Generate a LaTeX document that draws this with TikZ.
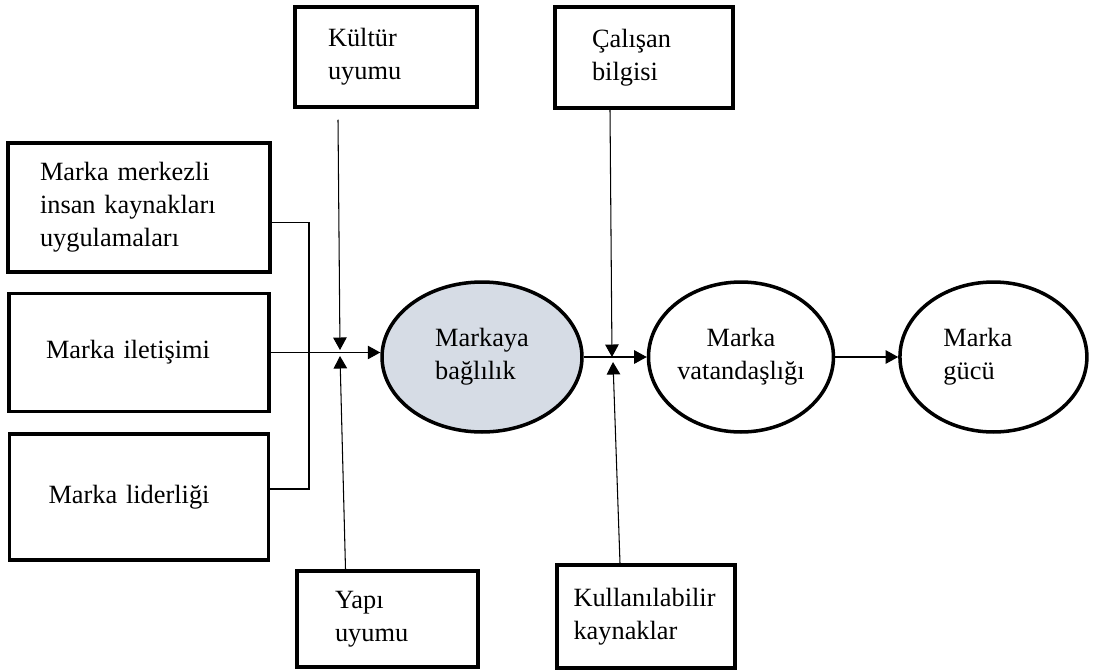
\documentclass[tikz,border=0pt]{standalone}
\usepackage{fontspec}
\setmainfont{Liberation Serif}
\usepackage{tikz}
\usetikzlibrary{positioning,shapes.geometric,arrows.meta,calc}
\definecolor{bagfill}{HTML}{D6DCE5}

\begin{document}
\begin{tikzpicture}[%
  x=0.02cm,
  y=-0.02cm,
  >={Triangle[length=0.25cm,width=0.27cm]},
  node distance=1.26cm,
  font=\fontsize{15}{18.7}\selectfont,
  kutu/.style={
    draw,
    line width=2pt,
    align=left,
    inner sep=0pt,},
  elips/.style={
    ellipse,
    draw,
    line width=2pt,
    inner sep=0pt,},
  ok/.style={
    ->,
    line width=0.6pt,}
  ]
  \useasboundingbox (0,0) rectangle (1109,670);
  %% Nodes
  \node[kutu, minimum width=5.24cm, minimum height=2.58cm, text width=3.96cm] (M1) at (139,207.5) {Marka merkezli\\insan kaynakları\\uygulamaları};
  \node[kutu, below = 0.36cm of M1, minimum width=5.2cm, minimum height=2.36cm, text width=3.72cm] (M2) {Marka iletişimi};
  \node[kutu, below = 0.38cm of M2, minimum width=5.18cm, minimum height=2.52cm, text width=3.62cm] (M3) {Marka liderliği};
  \node[kutu, minimum width=3.64cm, minimum height=2cm, text width=2.32cm] (kultur) at (386,57) {Kültür\\uyumu};
  \node[kutu, minimum width=3.62cm, minimum height=1.92cm, text width=2.1cm] (yapi) at (387.5,619) {Yapı\\uyumu};
  \node[kutu, minimum width=3.56cm, minimum height=2.02cm, text width=2.08cm] (calisan) at (644,57.5) {Çalışan\\bilgisi};
  \node[kutu, minimum width=3.56cm, minimum height=2.06cm, text width=2.9cm] (kaynak) at (646,616.5) {Kullanılabilir\\kaynaklar};
  \node[elips, fill=bagfill, minimum width=4cm, minimum height=3cm, align=left] (bag) at (482,357) {Markaya\\bağlılık};
  \node[elips, right = 1.26cm of bag, minimum width=3.7cm, minimum height=3cm, align=center] (vat) {Marka\\vatandaşlığı};
  \node[elips, right = 1.26cm of vat, minimum width=3.74cm, minimum height=3cm, align=left, text width=2cm] (guc) {Marka\\gücü};
  \coordinate (j1) at (309,350);
  \coordinate (k1) at (340,350);
  \coordinate (k2) at (612,357);
  %% Edges
  \draw[line width=0.6pt] ([yshift=-0.3cm]M1.east) -| (j1);
  \draw[line width=0.6pt] ([yshift=0.16cm]M3.east) -| (j1);
  \draw[ok] (M2.east) -- (M2.east -| bag.west);
  \draw[ok] ($(kultur.south)+(-48,11)$) -- (k1);
  \draw[ok] ($(yapi.north)+(-42,0)$) -- ($(k1)+(0,6)$);
  \draw[ok] (bag.east) -- (vat.west);
  \draw[ok] ($(calisan.south)+(-34,0)$) -- (k2);
  \draw[ok] ($(kaynak.north)+(-26,0)$) -- ($(k2)+(1,5)$);
  \draw[ok] (vat.east) -- (guc.west);
\end{tikzpicture}
\end{document}
